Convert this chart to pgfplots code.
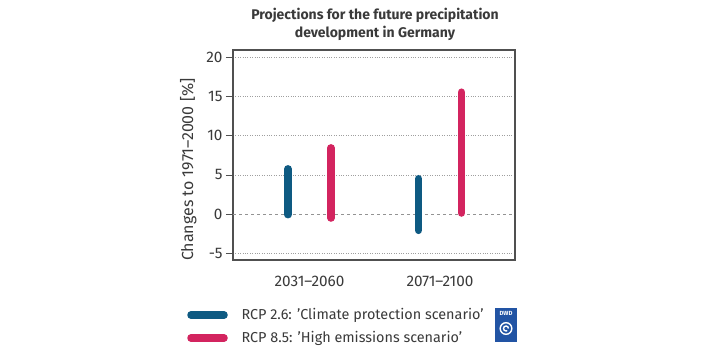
\documentclass[border=0pt]{standalone}
\usepackage{pgfplots}
\pgfplotsset{compat=1.18}
\usepackage{fontspec}
\setmainfont{Fira Sans}
\definecolor{rcpblue}{HTML}{0E5A82}
\definecolor{rcpred}{HTML}{D3245F}
\definecolor{txt}{HTML}{3A3A3A}
\definecolor{frame}{HTML}{505050}
\definecolor{dwd}{HTML}{2254A4}
\begin{document}
\begin{tikzpicture}[x=1pt,y=1pt]
\path[use as bounding box, fill=white] (0,0) rectangle (707,-354);
\node[font=\bfseries\fontsize{14}{18}\selectfont, text=txt, align=center] at (375,-24) {Projections for the future precipitation\\development in Germany};
\begin{axis}[
  at={(233pt,-260pt)}, anchor=south west,
  scale only axis, width=282pt, height=210pt,
  xmin=0.414, xmax=2.575, ymin=-5.86, ymax=20.96,
  axis line style={frame, line width=1.1pt},
  xtick={1,2}, xticklabels={2031--2060,2071--2100},
  x tick style={draw=none}, xticklabel style={yshift=-6pt},
  ytick pos=left,
  ytick={-5,5,10,15,20}, yticklabels={-5,5,10,15,20},
  extra y ticks={0}, extra y tick labels={0},
  extra y tick style={grid style={dashed, gray!85, line width=0.8pt}},
  ymajorgrids, grid style={dotted, gray!75, line width=0.7pt},
  tick align=outside, major tick length=7pt,
  y tick style={frame, line width=0.8pt},
  ticklabel style={font=\fontsize{15.3}{17}\selectfont, text=txt},
  ylabel={Changes to 1971--2000 [\%]},
  ylabel shift=-11pt,
  ylabel style={font=\fontsize{16}{18}\selectfont, text=txt, at={(ticklabel cs:0.43)}},
]
\addplot[rcpblue, line width=7.5pt, line cap=round, shorten <=3.75pt, shorten >=3.75pt] coordinates {(0.835,-0.55) (0.835,6.26)};
\addplot[rcpred, line width=7.5pt, line cap=round, shorten <=3.75pt, shorten >=3.75pt] coordinates {(1.165,-0.98) (1.165,8.94)};
\addplot[rcpblue, line width=7.5pt, line cap=round, shorten <=3.75pt, shorten >=3.75pt] coordinates {(1.835,-2.55) (1.835,5.0)};
\addplot[rcpred, line width=7.5pt, line cap=round, shorten <=3.75pt, shorten >=3.75pt] coordinates {(2.165,-0.34) (2.165,16.05)};
\end{axis}
\draw[rcpblue, line width=7.5pt, line cap=round] (191,-315) -- (224,-315);
\node[anchor=west, font=\fontsize{14.4}{16}\selectfont, text=txt] at (238,-315) {RCP 2.6: ’Climate protection scenario’};
\draw[rcpred, line width=7.5pt, line cap=round] (191,-338) -- (224,-338);
\node[anchor=west, font=\fontsize{14.4}{16}\selectfont, text=txt] at (238,-338) {RCP 8.5: ’High emissions scenario’};
\fill[dwd] (495,-308) rectangle (517,-342);
\node[white, font=\bfseries\fontsize{6}{6}\selectfont, inner sep=0] at (506,-313) {DWD};
\draw[white, line width=1.4pt] (506,-328.5) circle (5.8);
\draw[white, line width=1.4pt] (508.5,-328.5) arc (0:300:2.5);
\end{tikzpicture}
\end{document}
